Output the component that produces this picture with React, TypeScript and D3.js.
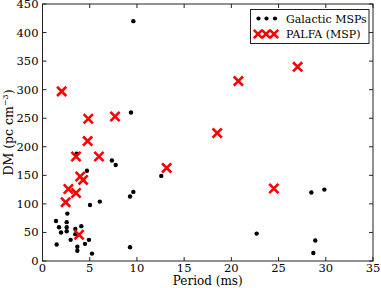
import React from "react";
import * as d3 from "d3";

const galacticPeriod = [1.43, 1.75, 1.96, 1.5, 2.63, 2.56, 2.56, 2.56, 2.98, 3.48, 3.48, 3.69, 3.69, 4.11, 4.5, 4.92, 5.24, 5.03, 6.07, 4.71, 3.62, 7.35, 7.75, 9.27, 9.62, 9.27, 9.37, 9.62, 12.58, 22.68, 28.47, 29.85, 28.89, 28.68];
const galacticDM = [70, 59, 50, 29, 83, 68, 59, 52, 37, 56, 47, 25, 18, 61, 30, 37, 13, 98, 104, 158, 188, 176, 168, 113, 121, 24, 260, 420, 149, 48, 120, 125, 36, 14];

const palfaPeriod = [2.03, 4.85, 7.68, 4.78, 3.55, 5.98, 4.0, 4.3, 2.74, 3.55, 2.45, 3.87, 13.15, 18.5, 20.74, 24.5, 27.02];
const palfaDM = [297, 249, 253, 210, 183, 183, 148, 142, 126, 119, 103, 46, 163, 224, 315, 127, 340];

const xTicks = [0, 5, 10, 15, 20, 25, 30, 35];
const yTicks = [0, 50, 100, 150, 200, 250, 300, 350, 400, 450];

const W = 381;
const H = 288;
const M = { left: 42.5, right: 373, top: 4, bottom: 261 };
const FONT = "'DejaVu Serif', serif";

function Cross({ cx, cy, s = 4.6 }: { cx: number; cy: number; s?: number }) {
  return (
    <path
      d={`M${cx - s},${cy - s}L${cx + s},${cy + s}M${cx - s},${cy + s}L${cx + s},${cy - s}`}
      stroke="#ff0000"
      strokeWidth={2.6}
      fill="none"
    />
  );
}

export default function App() {
  const x = d3.scaleLinear().domain([0, 35]).range([M.left, M.right]);
  const y = d3.scaleLinear().domain([0, 450]).range([M.bottom, M.top]);
  const tl = 4;
  const axisColor = "#222";

  return (
    <svg width={W} height={H} style={{ position: "absolute", left: 0, top: 0, background: "#fff" }}>
      <rect x={0} y={0} width={W} height={H} fill="#fff" />
      {galacticPeriod.map((p, i) => (
        <circle key={"g" + i} cx={x(p)} cy={y(galacticDM[i])} r={2.2} fill="#000" />
      ))}
      {palfaPeriod.map((p, i) => (
        <Cross key={"p" + i} cx={x(p)} cy={y(palfaDM[i])} />
      ))}
      <rect x={M.left} y={M.top} width={M.right - M.left} height={M.bottom - M.top} fill="none" stroke={axisColor} strokeWidth={1} />
      {xTicks.map((t) => (
        <g key={"xt" + t}>
          <line x1={x(t)} x2={x(t)} y1={M.bottom} y2={M.bottom - tl} stroke={axisColor} />
          <line x1={x(t)} x2={x(t)} y1={M.top} y2={M.top + tl} stroke={axisColor} />
          <text x={x(t)} y={271.5} textAnchor="middle" fontFamily={FONT} fontSize={11.5} fill="#000">
            {t}
          </text>
        </g>
      ))}
      {yTicks.map((t) => (
        <g key={"yt" + t}>
          <line x1={M.left} x2={M.left + tl} y1={y(t)} y2={y(t)} stroke={axisColor} />
          <line x1={M.right} x2={M.right - tl} y1={y(t)} y2={y(t)} stroke={axisColor} />
          <text x={38.5} y={y(t) + 4} textAnchor="end" fontFamily={FONT} fontSize={11.5} fill="#000">
            {t}
          </text>
        </g>
      ))}
      <text x={(M.left + M.right) / 2} y={285} textAnchor="middle" fontFamily={FONT} fontSize={12} fill="#000">
        Period (ms)
      </text>
      <text
        transform={`translate(13,${(M.top + M.bottom) / 2}) rotate(-90)`}
        textAnchor="middle"
        fontFamily={FONT}
        fontSize={12.5}
        fill="#000"
      >
        DM (pc cm<tspan dy={-5} fontSize={8}>−3</tspan><tspan dy={5}>)</tspan>
      </text>
      <rect x={250.5} y={9.5} width={118.5} height={34} fill="#fff" stroke={axisColor} strokeWidth={1} />
      {[258.5, 266.5, 275].map((lx) => (
        <circle key={"ld" + lx} cx={lx} cy={18.5} r={2.1} fill="#000" />
      ))}
      {[258, 266, 274].map((lx) => (
        <Cross key={"lx" + lx} cx={lx} cy={34} s={4.2} />
      ))}
      <text x={286} y={22.5} fontFamily={FONT} fontSize={11} fill="#000">
        Galactic MSPs
      </text>
      <text x={286} y={38} fontFamily={FONT} fontSize={11} fill="#000">
        PALFA (MSP)
      </text>
    </svg>
  );
}
